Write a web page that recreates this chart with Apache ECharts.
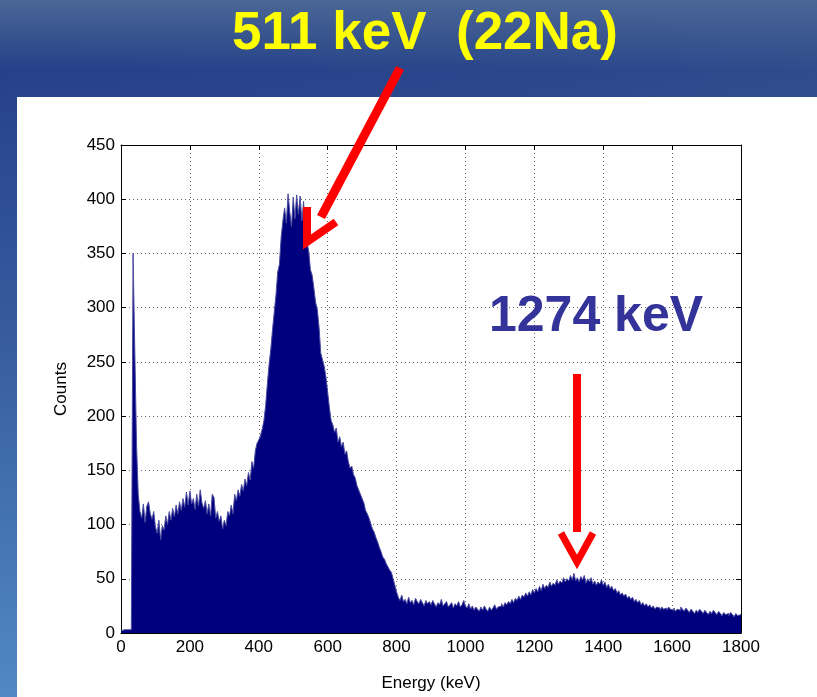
<!DOCTYPE html>
<html>
<head>
<meta charset="utf-8">
<script src="https://cdn.jsdelivr.net/npm/echarts@6/dist/echarts.min.js"></script>
<style>
html,body{margin:0;padding:0;background:#2a4688;}
#chart{width:817px;height:697px;}
</style>
</head>
<body>
<div id="chart"></div>
<script>
// Histogram: counts per 5 keV bin, starting at 0 keV
const binWidth = 5;
const counts = [
  // 0-100
  2,3,2,3,4,3,5,350,262,175,128,112,106,119,102,117,121,110,105,112,
  // 100-200
  98,92,104,86,99,95,108,100,112,104,115,107,118,110,121,113,124,116,130,118,
  // 200-300
  131,119,124,114,128,117,132,120,115,122,110,119,108,128,125,106,112,103,108,96,
  // 300-400
  104,99,112,108,118,110,128,122,132,126,137,131,142,136,148,141,158,152,168,175,
  // 400-500
  178,182,188,196,210,230,248,262,280,296,312,333,340,365,380,392,378,405,388,375,
  // 500-600
  402,382,404,386,403,380,398,372,360,352,335,330,318,305,298,282,258,252,246,236,
  // 600-700
  222,208,196,192,185,189,176,181,172,176,165,168,158,152,154,146,143,136,132,128,
  // 700-800
  124,120,113,110,106,101,96,93,88,84,79,75,70,68,64,61,58,56,50,44,
  // 800-900
  38,33,30,35,29,31,27,33,28,30,26,32,29,27,31,28,25,30,27,29,
  // 900-1000
  26,30,27,24,28,26,31,25,27,29,24,26,28,23,27,25,29,24,26,30,
  // 1000-1100
  25,23,27,22,25,21,24,22,20,24,21,25,22,20,24,21,23,26,22,24,
  // 1100-1200
  25,27,24,28,26,29,27,31,28,32,30,34,31,35,33,37,34,38,35,40,
  // 1200-1300
  37,41,38,43,39,45,41,44,42,47,43,46,44,49,45,48,46,51,47,50,
  // 1300-1400
  48,53,49,55,48,51,47,52,49,53,46,50,47,51,45,48,44,47,45,49,
  // 1400-1500
  44,47,42,45,41,43,39,41,37,39,35,37,34,36,32,34,31,33,29,31,
  // 1500-1600
  28,30,26,28,25,27,24,26,23,25,22,24,23,21,24,22,23,21,24,22,
  // 1600-1700
  21,23,20,22,21,24,22,20,23,21,19,22,20,18,21,19,22,20,18,21,
  // 1700-1800
  19,17,20,18,21,19,17,20,18,16,19,17,18,16,19,17,15,18,16,17
];
const xTicks = [0,200,400,600,800,1000,1200,1400,1600,1800];
const yTicks = [0,50,100,150,200,250,300,350,400,450];
const titleText = '511 keV  (22Na)';
const peakLabel = '1274 keV';
const xName = 'Energy (keV)';
const yName = 'Counts';

const stepData = counts.map((c, i) => [i * binWidth, c]);
stepData.push([counts.length * binWidth, counts[counts.length - 1]]);

const chart = echarts.init(document.getElementById('chart'), null, {renderer: 'canvas'});
const font = 'Liberation Sans, Arial, Helvetica, sans-serif';
const plain = v => String(v);
const axisCommon = {
  min: xTicks[0], max: xTicks[xTicks.length - 1], interval: xTicks[1] - xTicks[0]
};
const yCommon = {
  min: yTicks[0], max: yTicks[yTicks.length - 1], interval: yTicks[1] - yTicks[0]
};
chart.setOption({
  animation: false,
  backgroundColor: 'transparent',
  grid: {left: 121, right: 76, top: 145, bottom: 62, containLabel: false},
  xAxis: [
    Object.assign({
      type: 'value', position: 'bottom',
      name: xName, nameLocation: 'middle', nameGap: 42,
      nameTextStyle: {color: '#000', fontSize: 17, fontFamily: font},
      axisLine: {show: true, onZero: false, lineStyle: {color: '#000', width: 1}},
      axisTick: {show: true, inside: true, length: 5, lineStyle: {color: '#000'}},
      axisLabel: {color: '#000', fontSize: 17, fontFamily: font, margin: 6, formatter: plain},
      splitLine: {show: true, lineStyle: {color: '#666', type: [1, 3], width: 1}}
    }, axisCommon),
    Object.assign({
      type: 'value', position: 'top',
      axisLine: {show: true, onZero: false, lineStyle: {color: '#000', width: 1}},
      axisTick: {show: true, inside: true, length: 5, lineStyle: {color: '#000'}},
      axisLabel: {show: false},
      splitLine: {show: false}
    }, axisCommon)
  ],
  yAxis: [
    Object.assign({
      type: 'value', position: 'left',
      name: yName, nameLocation: 'middle', nameGap: 51, nameRotate: 90,
      nameTextStyle: {color: '#000', fontSize: 17, fontFamily: font},
      axisLine: {show: true, onZero: false, lineStyle: {color: '#000', width: 1}},
      axisTick: {show: true, inside: true, length: 5, lineStyle: {color: '#000'}},
      axisLabel: {color: '#000', fontSize: 17, fontFamily: font, margin: 6, formatter: plain},
      splitLine: {show: true, lineStyle: {color: '#666', type: [1, 3], width: 1}}
    }, yCommon),
    Object.assign({
      type: 'value', position: 'right',
      axisLine: {show: true, onZero: false, lineStyle: {color: '#000', width: 1}},
      axisTick: {show: true, inside: true, length: 5, lineStyle: {color: '#000'}},
      axisLabel: {show: false},
      splitLine: {show: false}
    }, yCommon)
  ],
  series: [{
    type: 'line',
    step: 'end',
    xAxisIndex: 0, yAxisIndex: 0,
    data: stepData,
    symbol: 'none',
    lineStyle: {color: '#4b4ba0', width: 1},
    areaStyle: {color: '#00007f', opacity: 1},
    z: 3
  }],
  graphic: [
    {type: 'rect', z: -10, silent: true, shape: {x: 0, y: 0, width: 817, height: 697},
      style: {fill: new echarts.graphic.LinearGradient(0, 0, 0, 1, [
        {offset: 0, color: '#4b6797'},
        {offset: 0.06, color: '#34508c'},
        {offset: 0.1, color: '#25418a'},
        {offset: 0.45, color: '#36599c'},
        {offset: 1, color: '#5089c3'}
      ])}},
    {type: 'rect', z: -9, silent: true, shape: {x: 0, y: 0, width: 817, height: 100},
      style: {fill: new echarts.graphic.LinearGradient(0, 0, 1, 0, [
        {offset: 0, color: 'rgba(60,90,150,0)'},
        {offset: 0.6, color: 'rgba(70,100,150,0.15)'},
        {offset: 1, color: 'rgba(70,100,150,0.3)'}
      ])}},
    {type: 'rect', z: -8, silent: true, shape: {x: 17, y: 97, width: 800, height: 600},
      style: {fill: '#ffffff'}},
    {type: 'text', z: 10, silent: true,
      style: {text: titleText, x: 425, y: 34, align: 'center', verticalAlign: 'middle',
        fill: '#ffff00', font: 'bold 53px "Liberation Sans", Arial, sans-serif'}},
    {type: 'text', z: 10, silent: true,
      style: {text: peakLabel, x: 596, y: 317, align: 'center', verticalAlign: 'middle',
        fill: '#333399', font: 'bold 50px "Liberation Sans", Arial, sans-serif'}},
    {type: 'polyline', z: 10, silent: true,
      shape: {points: [[400, 68], [321, 217]]},
      style: {stroke: '#ff0000', lineWidth: 9, fill: null}},
    {type: 'polyline', z: 10, silent: true,
      shape: {points: [[307, 207], [307, 242], [336, 222]]},
      style: {stroke: '#ff0000', lineWidth: 8, fill: null}},
    {type: 'polyline', z: 10, silent: true,
      shape: {points: [[577, 374], [577, 532]]},
      style: {stroke: '#ff0000', lineWidth: 8, fill: null}},
    {type: 'polyline', z: 10, silent: true,
      shape: {points: [[561, 533], [577, 562], [593, 533]]},
      style: {stroke: '#ff0000', lineWidth: 7, fill: null}}
  ]
});
</script>
</body>
</html>
